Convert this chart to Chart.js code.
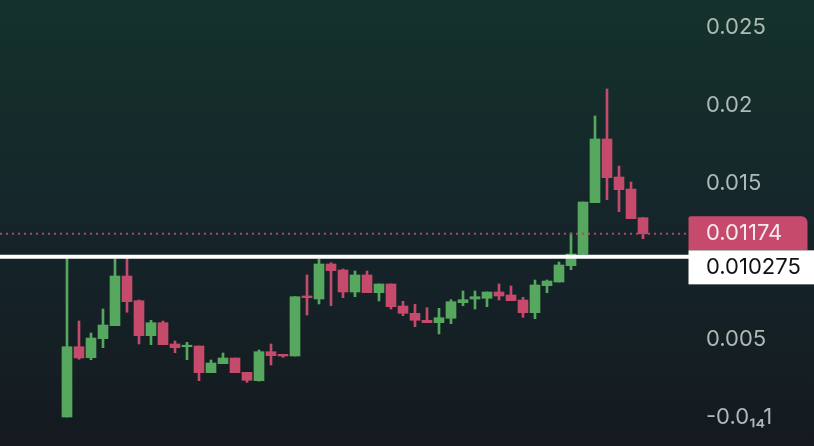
<!DOCTYPE html>
<html>
<head>
<meta charset="utf-8">
<script src="https://cdn.jsdelivr.net/npm/chart.js@4/dist/chart.umd.min.js"></script>
<style>
html,body{margin:0;padding:0;background:#141d21;}
</style>
</head>
<body>
<canvas id="c" width="814" height="446"></canvas>
<script>
// candles, oldest first
let open  = [0.00000,0.004506,0.003801,0.005019,0.005853,0.009038,0.007455,0.005212,0.006045,0.004680,
             0.004506,0.004551,0.002840,0.003417,0.003782,0.002865,0.002327,0.004186,0.004019,0.003910,
             0.007756,0.007564,0.009808,0.009423,0.008013,0.009103,0.007968,0.008526,0.007115,0.006647,
             0.006199,0.006045,0.006327,0.007327,0.007564,0.007609,0.008013,0.007820,0.007500,0.006686,
             0.008417,0.008654,0.009699,0.010430,0.013737,0.017821,0.015385,0.014615,0.012776];
let high  = [0.010321,0.006154,0.005385,0.006923,0.010128,0.010256,0.007500,0.006199,0.006154,0.004872,
             0.004788,0.004551,0.003654,0.004103,0.003782,0.002865,0.004295,0.004680,0.004019,0.007712,
             0.009103,0.010128,0.009891,0.009487,0.009359,0.009359,0.008526,0.008526,0.007417,0.007224,
             0.007006,0.006968,0.007519,0.008077,0.008077,0.008013,0.008526,0.008397,0.007673,0.008782,
             0.008782,0.009936,0.011795,0.013782,0.019295,0.021026,0.016090,0.015064,0.012776];
let low   = [0.00000,0.003699,0.003673,0.004442,0.005853,0.006712,0.004680,0.004635,0.004635,0.004122,
             0.003673,0.002327,0.002840,0.003417,0.002840,0.002224,0.002300,0.003333,0.003827,0.003910,
             0.006538,0.007244,0.007135,0.007647,0.007712,0.007968,0.007436,0.006923,0.006494,0.005788,
             0.006045,0.005321,0.005981,0.007135,0.006923,0.007071,0.007500,0.007455,0.006391,0.006301,
             0.007968,0.008654,0.009442,0.010430,0.013737,0.013930,0.013160,0.012712,0.011430];
let close = [0.004506,0.003782,0.005064,0.005897,0.009038,0.007391,0.005212,0.006045,0.004635,0.004442,
             0.004596,0.002840,0.003462,0.003782,0.002840,0.002353,0.004186,0.003929,0.003910,0.007712,
             0.007647,0.009808,0.009378,0.008013,0.009103,0.007968,0.008526,0.007071,0.006647,0.006199,
             0.006045,0.006365,0.007391,0.007519,0.007712,0.008013,0.007756,0.007455,0.006686,0.008462,
             0.008718,0.009744,0.010449,0.013782,0.017821,0.015340,0.014571,0.012712,0.011740];

let lastPrice = 0.01174;
let markPrice = 0.010275;
let tickValues = [0, 0.005, 0.015, 0.02, 0.025];
let tickLabels = ["-0.0\u2081\u20841", "0.005", "0.015", "0.02", "0.025"];

let up = "#55a85d", down = "#c64a6b";
let cols = open.map((o,i)=> close[i] >= o ? up : down);

let bg = {
    id:"bg",
    beforeDraw(ch){
        let c = ch.ctx;
        let g = c.createLinearGradient(0,0,0,ch.height);
        g.addColorStop(0,"#14322b");
        g.addColorStop(0.5,"#15252a");
        g.addColorStop(1,"#141a1f");
        c.save();
        c.fillStyle = g;
        c.fillRect(0,0,ch.width,ch.height);
        c.restore();
    }
};

let marks = {
    id:"marks",
    afterDatasetsDraw(ch){
        let c = ch.ctx, y = ch.scales.y, a = ch.chartArea;
        let yl = y.getPixelForValue(lastPrice);
        let ym = y.getPixelForValue(markPrice);
        c.save();
        // dotted last price line
        c.strokeStyle = "#a84c64";
        c.lineWidth = 2;
        c.setLineDash([2,4]);
        c.beginPath();
        c.moveTo(0,yl);
        c.lineTo(a.right,yl);
        c.stroke();
        c.setLineDash([]);
        // white line
        c.strokeStyle = "#ffffff";
        c.lineWidth = 4;
        c.beginPath();
        c.moveTo(0,ym);
        c.lineTo(a.right,ym);
        c.stroke();
        // price boxes
        c.font = "22px Inter";
        c.textBaseline = "middle";
        c.fillStyle = down;
        c.beginPath();
        c.roundRect(a.right-1.5, yl-17.5, 119, 34, [2,6,0,0]);
        c.fill();
        c.fillStyle = "#f6eaee";
        c.fillText(lastPrice.toString(), a.right+16, yl);
        c.fillStyle = "#ffffff";
        c.fillRect(a.right-1.5, yl+16.5, 130, 34);
        c.fillStyle = "#111111";
        c.fillText(markPrice.toString(), a.right+16, yl+33.5);
        c.restore();
    }
};

new Chart(document.getElementById("c"),{
    type:"bar",
    data:{
        datasets:[
            {
                data: open.map((o,i)=>({x:i, y:[o, close[i]]})),
                backgroundColor: cols,
                barThickness: 10,
                minBarLength: 1.5,
                grouped: false,
                order: 0
            },
            {
                data: open.map((o,i)=>({x:i, y:[low[i], high[i]]})),
                backgroundColor: cols,
                barThickness: 2,
                grouped: false,
                order: 1
            }
        ]
    },
    options:{
        responsive:false,
        animation:false,
        layout:{padding:0},
        plugins:{legend:{display:false}, tooltip:{enabled:false}},
        scales:{
            x:{type:"linear", display:false, offset:false, min:-5.583, max:51.917},
            y:{
                position:"right",
                min:-0.001859, max:0.02673,
                grid:{display:false, drawTicks:false},
                border:{display:false},
                afterBuildTicks: s => { s.ticks = tickValues.map(v=>({value:v})); },
                afterFit: s => { s.width = 124; s.paddingTop = 0; s.paddingBottom = 0; },
                ticks:{
                    padding:16,
                    color:"#aeb9b8",
                    font:{family:"Inter", size:22},
                    callback:(v,i)=> tickLabels[i]
                }
            }
        }
    },
    plugins:[bg, marks]
});
</script>
</body>
</html>
